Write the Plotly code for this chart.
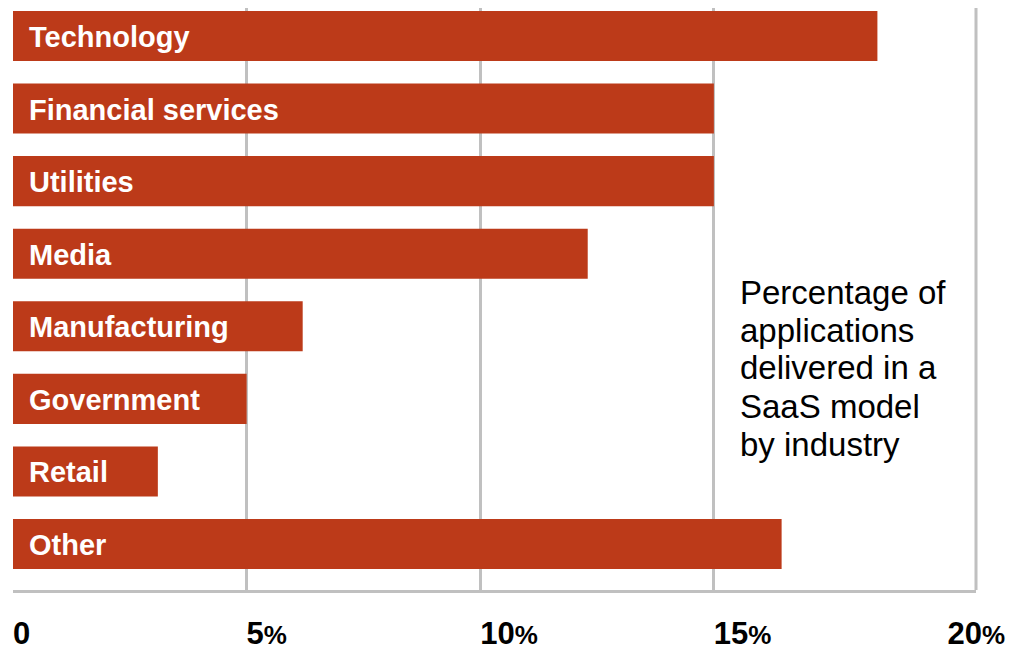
import plotly.graph_objects as go

categories = ["Technology", "Financial services", "Utilities", "Media",
              "Manufacturing", "Government", "Retail", "Other"]
values = [18.5, 15.0, 15.0, 12.3, 6.2, 5.0, 3.1, 16.45]

grid_ticks = [5, 10, 15]
label_ticks = [0, 5, 10, 15, 20]
label_texts = ["0", "5%", "10%", "15%", "20%"]

note_lines = ["Percentage of", "applications", "delivered in a", "SaaS model", "by industry"]

BAR = "#BC3A19"
GRID = "#C0C0C0"
FONT = "Liberation Sans, Arial, sans-serif"

def tick_label(t):
    if t.endswith("%"):
        return t[:-1] + "<span style='font-size:26px'>%</span>"
    return t

# page has an 8px body margin; size the figure so it fits the 1025x650 window
OFF = 8
W, H = 1025 - OFF, 650 - OFF
PL, PR, PT, PB = 13, 976, 7, 590          # plot area in page pixels
L = PL - OFF
T = max(PT - OFF, 0)
R = W - (PR - OFF)
B = H - (PB - OFF)

fig = go.Figure()
fig.add_trace(go.Bar(
    x=values, y=categories, orientation="h",
    marker=dict(color=BAR, line=dict(width=0)),
    width=0.69, hoverinfo="skip",
))
# empty trace to keep the label axis alive
fig.add_trace(go.Scatter(x=[0], y=[categories[0]], xaxis="x2", mode="markers",
                         marker=dict(opacity=0), hoverinfo="skip"))

fig.update_layout(
    width=W, height=H,
    margin=dict(l=L, r=R, t=T, b=B, autoexpand=False),
    paper_bgcolor="white", plot_bgcolor="white",
    showlegend=False,
    xaxis=dict(
        range=[0, 20.61], tickmode="array", tickvals=grid_ticks,
        showticklabels=False, showgrid=True, gridcolor=GRID, gridwidth=3,
        zeroline=False, showline=True, linecolor=GRID, linewidth=3, ticks="",
        automargin=False,
    ),
    xaxis2=dict(
        range=[0, 20.61], overlaying="x", anchor="y", side="bottom",
        tickmode="array", tickvals=label_ticks,
        ticktext=[tick_label(t) for t in label_texts],
        ticklabelposition="outside right", ticklabelstandoff=22, ticklabelshift=0,
        tickfont=dict(family=FONT, size=31, color="black", weight="bold"),
        showgrid=False, zeroline=False, showline=False, ticks="",
        automargin=False,
    ),
    yaxis=dict(
        type="category", categoryorder="array", categoryarray=categories,
        range=[7.633, -0.385], showticklabels=False,
        showgrid=False, zeroline=False, showline=False, ticks="",
        automargin=False,
    ),
    shapes=[dict(type="line", xref="paper", yref="paper", x0=1, x1=1, y0=0, y1=1,
                 line=dict(color=GRID, width=3), layer="below")],
)

# category labels inside the bars
for c in categories:
    fig.add_annotation(
        text=c, x=0, y=c, xref="x", yref="y", xanchor="left", yanchor="middle",
        xshift=14, yshift=-1, showarrow=False,
        font=dict(family=FONT, size=29, color="white", weight="bold"),
    )

plot_h = PB - PT
plot_w = PR - PL
centers_px = [292, 330, 367, 406, 444]   # page pixels
for line, cy in zip(note_lines, centers_px):
    fig.add_annotation(
        text=line, xref="paper", yref="paper",
        x=(738 - PL) / plot_w, y=(PB - cy) / plot_h,
        xanchor="left", yanchor="middle", showarrow=False,
        font=dict(family=FONT, size=33, color="black"),
    )

fig.write_html("out.html")
